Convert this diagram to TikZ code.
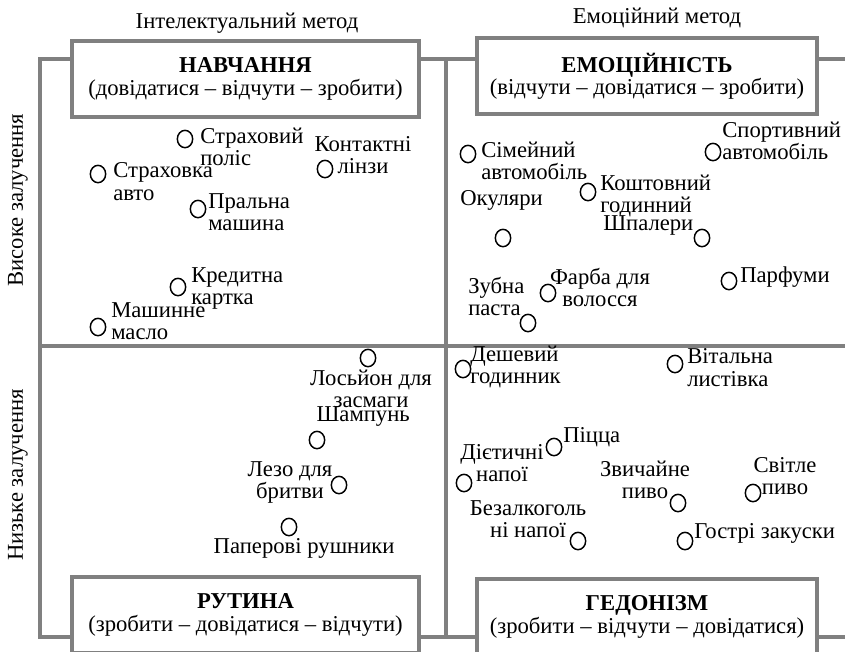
\documentclass[tikz,border=0pt]{standalone}
\usepackage{fontspec}
\setmainfont{Liberation Serif}
\usetikzlibrary{positioning,shapes.geometric}
\definecolor{framegray}{RGB}{128,128,128}
\newcommand\diagfont{\fontsize{17}{16.7}\selectfont\lineskiplimit-6pt\relax}

\begin{document}
\begin{tikzpicture}[x=0.75pt, y=-0.75pt, font=\diagfont,
	quad/.style = { rectangle, draw=framegray, line width=2.8pt, fill=white,
	minimum height=57pt, align=center },
	axis/.style = { draw=framegray, line width=3pt },
	dot/.style = { ellipse, draw=black, line width=1.1pt, inner sep=0pt,
	minimum width=11.5pt, minimum height=13pt },
	lbl/.style = { inner sep=0pt, align=left, anchor=west },
	clbl/.style = { inner sep=0pt, align=center } ]

  \useasboundingbox (0,0) rectangle (845,651);
  \clip (0,0) rectangle (845,651);

  \draw [axis] (845,59) -- (40,59) -- (40,637) -- (845,637);
  \draw [axis] (40,346) -- (845,346);
  \draw [axis] (446,59) -- (446,637);

  \node [name=intel] at (247,23) { Інтелектуальний метод };
  \node [name=emot] at (657,18) { Емоційний метод };
  \node [name=high, rotate=90] at (18,200) { Високе залучення };
  \node [name=low, rotate=90] at (18,475) { Низьке залучення };

  \node [name=learn, quad, minimum width=260pt] at (245.5,79)
	{ \textbf{НАВЧАННЯ}\\(довідатися – відчути – зробити) };
  \node [name=feel, quad, minimum width=255pt] at (647,76)
	{ \textbf{ЕМОЦІЙНІСТЬ}\\(відчути – довідатися – зробити) };
  \node [name=routine, quad, minimum width=260pt] at (245.5,615)
	{ \textbf{РУТИНА}\\(зробити – довідатися – відчути) };
  \node [name=hedon, quad, minimum width=255pt] at (647,617)
	{ \textbf{ГЕДОНІЗМ}\\(зробити – відчути – довідатися) };

  \node [name=polis, dot] at (185,139) {};
  \node [name=polist, lbl] at (200,146.5) { Страховий\\поліс };
  \node [name=linzy, dot] at (325,169) {};
  \node [name=linzyt, clbl] at (363,155) { Контактні\\лінзи };
  \node [name=avto, dot] at (98,174) {};
  \node [name=avtot, lbl] at (113,181.5) { Страховка\\авто };
  \node [name=pralna, dot] at (198,209) {};
  \node [name=pralnat, lbl] at (208,212) { Пральна\\машина };
  \node [name=kredyt, dot] at (178,287) {};
  \node [name=kredytt, lbl] at (191,288.5) { Кредитна\\картка };
  \node [name=maslo, dot] at (98,327) {};
  \node [name=maslot, lbl] at (111,321) { Машинне\\масло };

  \node [name=simia, dot] at (468,154) {};
  \node [name=simiat, lbl] at (481,160.5) { Сімейний\\автомобіль };
  \node [name=sport, dot] at (713,152) {};
  \node [name=sportt, lbl] at (722,140.5) { Спортивний\\автомобіль };
  \node [name=godyn, dot] at (588,192) {};
  \node [name=godynt, lbl] at (600,196) { Коштовний\\годинний };
  \node [name=okul, dot] at (503,238) {};
  \node [name=okult, lbl] at (460,200) { Окуляри };
  \node [name=shpal, dot] at (702,238) {};
  \node [name=shpalt, lbl] at (603,225) { Шпалери };
  \node [name=parf, dot] at (729,281) {};
  \node [name=parft, lbl] at (740,277) { Парфуми };
  \node [name=farba, dot] at (548,293) {};
  \node [name=farbat, clbl] at (600,287.5) { Фарба для\\волосся };
  \node [name=pasta, dot] at (528,323) {};
  \node [name=pastat, lbl] at (468,296.5) { Зубна\\паста };

  \node [name=losion, dot] at (368,358) {};
  \node [name=losiont, clbl] at (371,389) { Лосьйон для\\засмаги };
  \node [name=shamp, dot] at (317,440) {};
  \node [name=shampt, clbl] at (366,417) { Шампунь };
  \node [name=lezo, dot] at (339,485) {};
  \node [name=lezot, clbl] at (290,482.5) { Лезо для\\бритви };
  \node [name=rushn, dot] at (289,527) {};
  \node [name=rushnt, clbl] at (307,548) { Паперові рушники };

  \node [name=deshev, dot] at (463,369) {};
  \node [name=deshevt, lbl] at (470,367) { Дешевий\\годинник };
  \node [name=listiv, dot] at (675,364) {};
  \node [name=listivt, lbl] at (687,367.5) { Вітальна\\листівка };
  \node [name=pizza, dot] at (554,447) {};
  \node [name=pizzat, lbl] at (563,437) { Піцца };
  \node [name=diet, dot] at (464,483) {};
  \node [name=dietht, clbl] at (502,463) { Дієтичні\\напої };
  \node [name=pyvo, dot] at (678,503) {};
  \node [name=pyvot, clbl] at (645,480) { Звичайне\\пиво };
  \node [name=svitle, dot] at (753,493) {};
  \node [name=svitlet, clbl] at (785,476) { Світле\\пиво };
  \node [name=bezalk, dot] at (578,541) {};
  \node [name=bezalkt, clbl] at (528,519) { Безалкоголь\\ні напої };
  \node [name=zakus, dot] at (685,541) {};
  \node [name=zakust, lbl] at (694,533) { Гострі закуски };
\end{tikzpicture}
\end{document}
